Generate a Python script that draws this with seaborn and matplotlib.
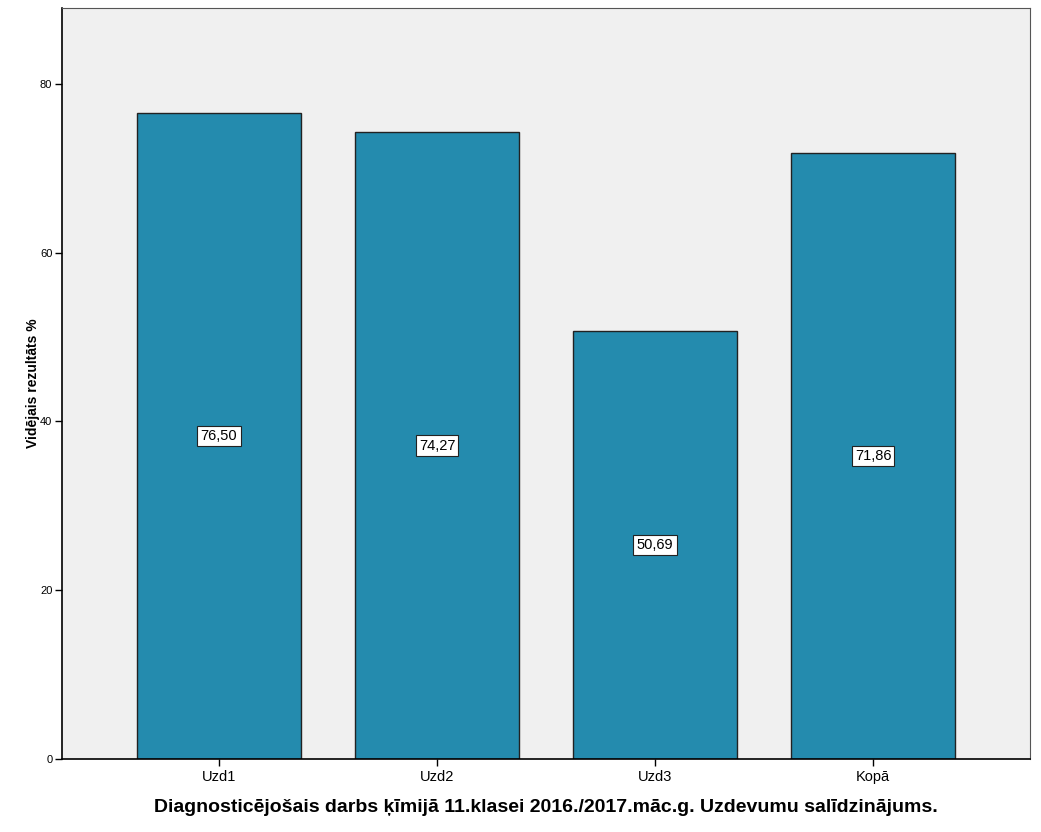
import pandas as pd
import seaborn as sns
import matplotlib.pyplot as plt

# Average results per task (Uzd1-3) and total
tasks = ['Uzd1', 'Uzd2', 'Uzd3', 'Kopā']
scores = [76.50, 74.27, 50.69, 71.86]
value_labels = ['76,50', '74,27', '50,69', '71,86']

df = pd.DataFrame({'task': tasks, 'score': scores})

sns.set_style('white')
plt.rcParams['font.family'] = ['Liberation Sans', 'DejaVu Sans']
plt.rcParams.update({'text.color': 'black', 'axes.labelcolor': 'black',
                     'xtick.color': 'black', 'ytick.color': 'black'})

fig = plt.figure(figsize=(10.41, 8.32), dpi=100)
ax = fig.add_axes([0.0596, 0.0877, 0.9298, 0.9027])
ax.set_facecolor('#F0F0F0')

sns.barplot(x='task', y='score', data=df, color='#248BAE', saturation=1,
            width=0.75, edgecolor='#222222', linewidth=1, ax=ax)

# value boxes in the middle of each bar
for i, (v, lab) in enumerate(zip(scores, value_labels)):
    ax.text(i, v / 2, lab, ha='center', va='center', fontsize=10.5,
            bbox=dict(boxstyle='square,pad=0.22', facecolor='white',
                      edgecolor='#222222', linewidth=0.8))

ax.set_xlim(-0.72, 3.72)
ax.set_ylim(0, 89)
ax.set_yticks([0, 20, 40, 60, 80])
ax.tick_params(axis='y', labelsize=8, length=5, width=1, pad=2, left=True)
ax.tick_params(axis='x', labelsize=10.5, length=5, width=1, pad=3, bottom=True)

for side in ['left', 'bottom']:
    ax.spines[side].set_color('black')
    ax.spines[side].set_linewidth(1.2)
for side in ['top', 'right']:
    ax.spines[side].set_color('#555555')
    ax.spines[side].set_linewidth(0.8)

ax.set_ylabel('Vidējais rezultāts %', fontsize=10, fontweight='bold', labelpad=0)
ax.set_xlabel('Diagnosticējošais darbs ķīmijā 11.klasei 2016./2017.māc.g. Uzdevumu salīdzinājums.',
              fontsize=14, fontweight='bold', labelpad=11)

plt.savefig('out.png', dpi=100)
